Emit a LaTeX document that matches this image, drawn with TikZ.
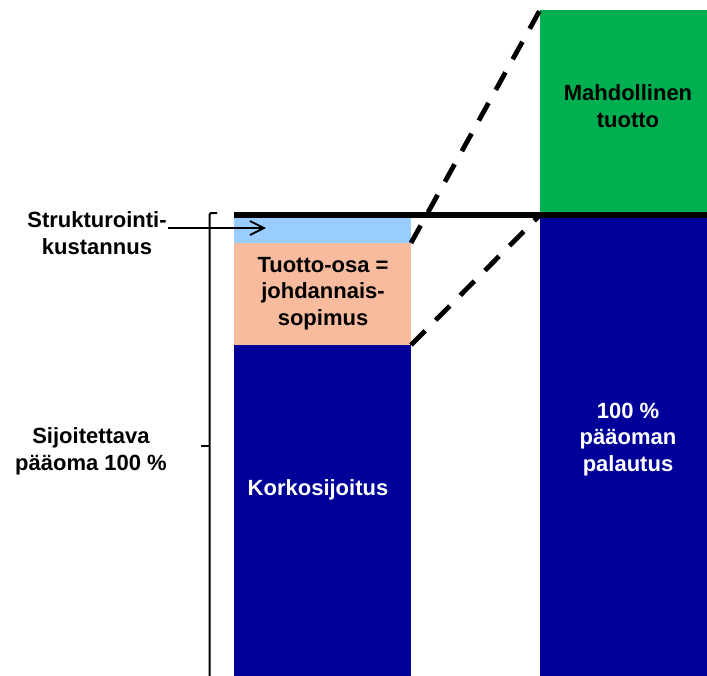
\documentclass[tikz,border=0pt]{standalone}
\usepackage{fontspec}
\setmainfont{Liberation Sans}
\usetikzlibrary{arrows.meta}
\definecolor{navybar}{HTML}{000099}
\definecolor{greenbar}{HTML}{00B050}
\definecolor{lightbar}{HTML}{99CCFF}
\definecolor{salmonbar}{HTML}{F8BB9E}
\begin{document}
\begin{tikzpicture}[x=1pt,y=-1pt,
  barbox/.style={draw=none,inner sep=0pt,outer sep=0pt,anchor=north west},
  lbl/.style={inner sep=0pt,outer sep=0pt,anchor=north,align=center,
    font=\bfseries\fontsize{22}{26.5}\selectfont},
  dashline/.style={line width=4.8pt,dash pattern=on 20pt off 15pt},
  bracket/.style={line width=2pt}]
\clip (0,0) rectangle (707,675);
% left bar
\node[barbox,fill=lightbar,minimum width=177pt,minimum height=31pt] (cost) at (234,212) {};
\node[barbox,fill=salmonbar,minimum width=177pt,minimum height=102pt] (deriv) at (234,243) {};
\node[barbox,fill=navybar,minimum width=177pt,minimum height=340pt] (bond) at (234,345) {};
% right bar
\node[barbox,fill=greenbar,minimum width=180pt,minimum height=206pt] (gain) at (540,10) {};
\node[barbox,fill=navybar,minimum width=180pt,minimum height=470pt] (ret) at (540,215) {};
% top line
\coordinate (lineL) at (234,215);
\coordinate (lineR) at (720,215);
\draw[line width=5.5pt] (lineL) -- (lineR);
% dashed connectors
\draw[dashline] (deriv.north east) -- (gain.north west);
\draw[dashline] (deriv.south east) -- (ret.north west);
% labels
\node[lbl,text=white] (tbond) at (318,480) {Korkosijoitus};
\node[lbl] (tderiv) at (323,257) {Tuotto-osa =\\johdannais-\\sopimus};
\node[lbl] (tgain) at (628,85) {Mahdollinen\\tuotto};
\node[lbl,text=white] (tret) at (628,403) {100 \%\\pääoman\\palautus};
\node[lbl] (tcost) at (97,212) {Strukturointi-\\kustannus};
\node[lbl] (tcap) at (91,428) {Sijoitettava\\pääoma 100 \%};
% arrow to cost
\coordinate (arrS) at (168,228);
\coordinate (arrE) at (266,228);
\draw[line width=1.8pt,-{Straight Barb[length=14pt,width=14pt,line width=1.8pt]}] (arrS) -- (arrE);
% bracket
\coordinate (brTopR) at (217,213);
\coordinate (brTop) at (209.5,213);
\coordinate (brBot) at (209.5,690);
\coordinate (brMid) at (209.5,446);
\coordinate (brTick) at (201,446);
\draw[bracket,rounded corners=2pt] (brTopR) -- (brTop) -- (brBot);
\draw[bracket] (brMid) -- (brTick);
\end{tikzpicture}
\end{document}
